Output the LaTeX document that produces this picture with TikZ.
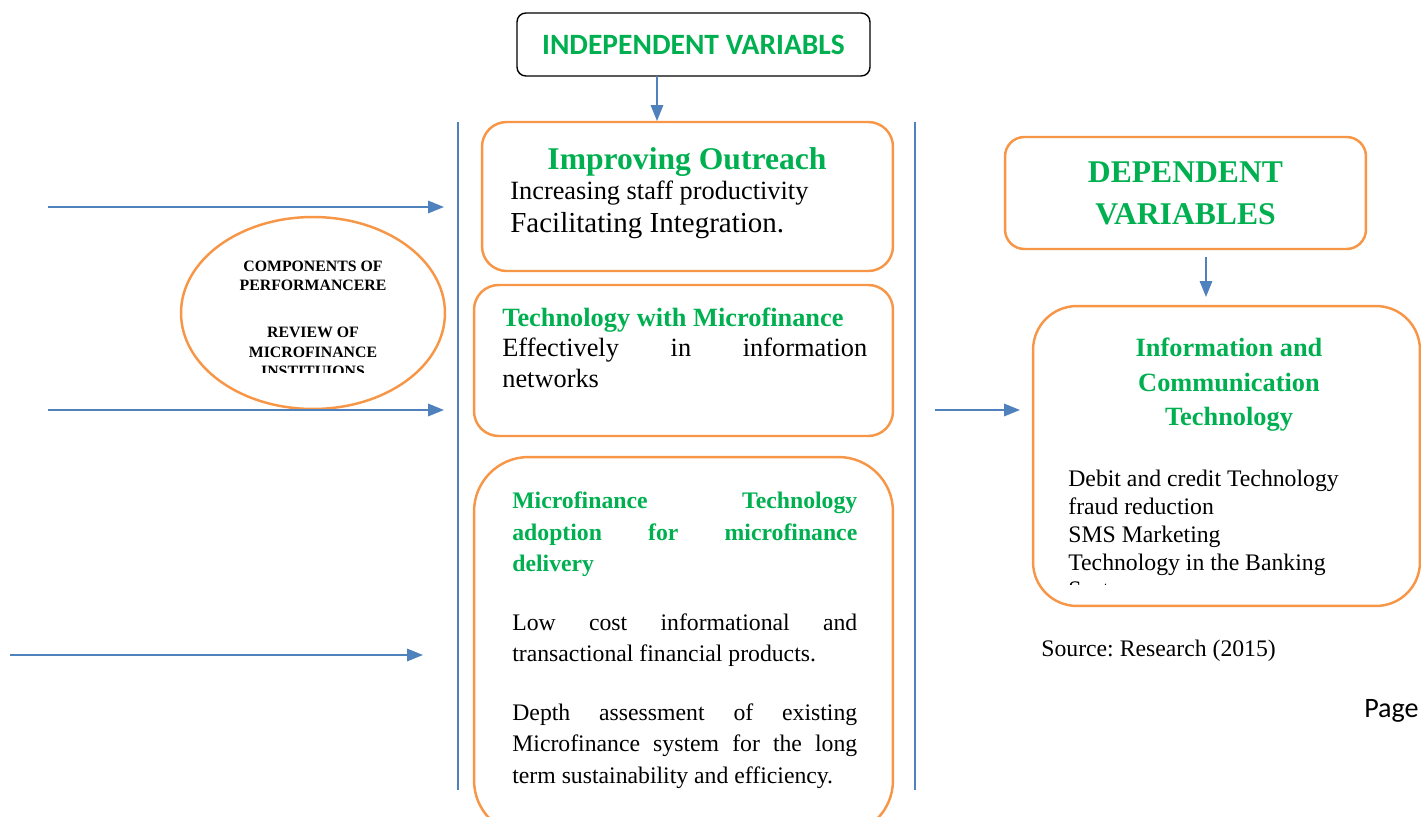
\documentclass[tikz,border=0pt]{standalone}
\usepackage{fontspec}
\setmainfont{Liberation Serif}
\newfontfamily\calfont{Carlito}
\usetikzlibrary{arrows.meta, calc, positioning, shapes.geometric}
\definecolor{ogreen}{HTML}{00B050}
\definecolor{oorange}{HTML}{F79646}
\definecolor{oblue}{HTML}{4F81BD}
\hyphenpenalty=10000
\tolerance=9999
\frenchspacing

\begin{document}
\begin{tikzpicture}[x=0.02cm, y=-0.02cm,
        box/.style={draw=oorange, line width=1.4pt, rounded corners=14pt, inner sep=0},
        arr/.style={draw=oblue, line width=1.1pt, -{Triangle[length=9pt,width=7pt]}},
        sepline/.style={draw=oblue, line width=0.7pt},
        txt/.style={inner sep=0, font=\fontsize{15}{17.6}\selectfont},
        head/.style={inner sep=0, text=ogreen, font=\bfseries\fontsize{15}{17.6}\selectfont}]
    \useasboundingbox (0,0) rectangle (1421,817);

    % independent side
    \node[draw, line width=0.8pt, rounded corners=5pt, minimum width=7.06cm, minimum height=1.26cm,
          text=ogreen, font=\calfont\bfseries\fontsize{16.8}{20}\selectfont] (iv) at (693.5,44.5) {INDEPENDENT VARIABLS};
    \node[box, minimum width=8.22cm, minimum height=2.98cm] (out) at (687.5,196.5) {};
    \node[box, minimum width=8.38cm, minimum height=3.02cm] (tech) at (683.5,360.5) {};
    \node[box, rounded corners=31pt, minimum width=8.38cm, minimum height=7.56cm] (mfi) at (683.5,646) {};

    \node[head, font=\bfseries\fontsize{18}{22}\selectfont, anchor=base] (outh) at (687,170) {Improving Outreach};
    \node[txt, anchor=base west] (outa) at (510,200) {Increasing staff productivity};
    \node[txt, font=\fontsize{16.5}{19}\selectfont, anchor=base west] (outb) at (510,233) {Facilitating Integration.};

    \node[head, anchor=base west] (techh) at (502,327) {Technology with Microfinance};
    \node[txt, text width=7.3cm, align=justify, anchor=base west] (techb) at (502,357)
        {Effectively in information networks};

    \node[head, font=\bfseries\fontsize{13.5}{17.9}\selectfont, text width=6.9cm, align=justify, anchor=base west] (mfih) at (512,509)
        {Microfinance Technology adoption for microfinance delivery};
    \node[txt, font=\fontsize{13.5}{18}\selectfont, text width=6.9cm, align=justify, anchor=base west] (mfia) at (512,630)
        {Low cost informational and transactional financial products.};
    \node[txt, font=\fontsize{13.5}{18}\selectfont, text width=6.9cm, align=justify, anchor=base west] (mfib) at (512,720)
        {Depth assessment of existing Microfinance system for the long term sustainability and efficiency.};

    % components
    \node[ellipse, draw=oorange, line width=1.4pt, minimum width=5.28cm, minimum height=3.84cm] (comp) at (313,313) {};
    \node[inner sep=0, align=center, font=\bfseries\fontsize{9}{11.3}\selectfont, anchor=base] (compa) at (313,291)
        {COMPONENTS OF\\PERFORMANCERE};
    \begin{scope}
        \clip (200,300) rectangle (430,373);
        \node[inner sep=0, align=center, font=\bfseries\fontsize{9}{11.3}\selectfont, anchor=base] (compb) at (313,377)
            {REVIEW OF\\MICROFINANCE\\INSTITUIONS};
    \end{scope}

    \draw[sepline] (458,122) coordinate (sa1) -- (458,790) coordinate (sa2);
    \draw[sepline] (915,122) coordinate (sb1) -- (915,790) coordinate (sb2);

    \coordinate (ivd) at (657,76);
    \coordinate (ivt) at (657,121);
    \draw[arr] (ivd) -- (ivt);
    \coordinate (l1) at (48,207);
    \coordinate (l1e) at (444,207);
    \coordinate (l2) at (48,410);
    \coordinate (l2e) at (444,410);
    \coordinate (l3) at (10,655);
    \coordinate (l3e) at (423,655);
    \coordinate (m1) at (935,410);
    \coordinate (m1e) at (1020,410);
    \draw[arr] (l1) -- (l1e);
    \draw[arr] (l2) -- (l2e);
    \draw[arr] (l3) -- (l3e);
    \draw[arr] (m1) -- (m1e);

    % dependent side
    \node[box, rounded corners=11pt, minimum width=7.22cm, minimum height=2.24cm, align=center,
          text=ogreen, font=\bfseries\fontsize{18}{24}\selectfont] (dep) at (1185.5,193) {DEPENDENT\\VARIABLES};
    \node[box, rounded corners=25pt, minimum width=7.74cm, minimum height=6cm] (ict) at (1226.5,456) {};
    \coordinate (dd) at (1206,257);
    \coordinate (ddt) at (1206,297);
    \draw[arr] (dd) -- (ddt);

    \node[head, font=\bfseries\fontsize{15}{19.8}\selectfont, align=center, anchor=base] (icth) at (1229,426)
        {Information and\\Communication\\Technology};
    \begin{scope}
        \clip (1040,460) rectangle (1400,585);
        \node[inner sep=0, font=\fontsize{13.5}{15.9}\selectfont, align=left, anchor=base west] (ictb) at (1068,598)
            {Debit and credit Technology\\fraud reduction\\SMS Marketing\\Technology in the Banking\\Sector};
    \end{scope}

    \node[inner sep=0, font=\fontsize{13.5}{16}\selectfont, anchor=base west] (src) at (1041,657) {Source: Research (2015)};
    \node[inner sep=0, font=\calfont\fontsize{16}{19}\selectfont, anchor=base east] (page) at (1419,717) {Page};
\end{tikzpicture}
\end{document}
